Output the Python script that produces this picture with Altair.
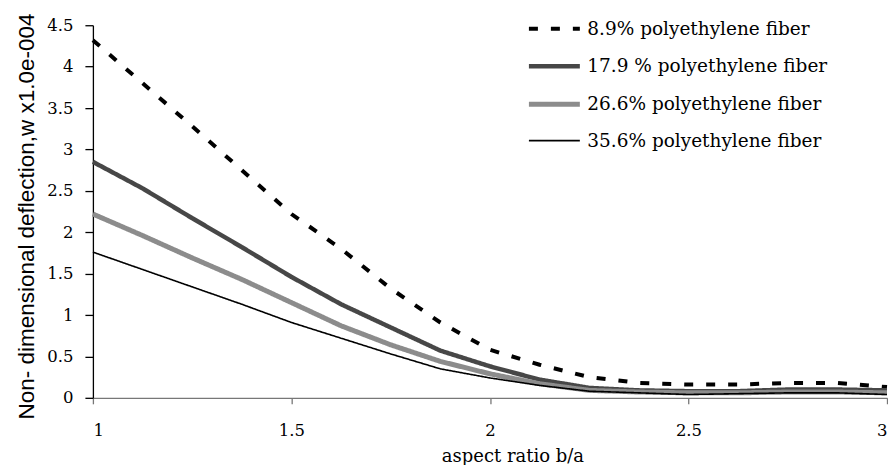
import altair as alt
import pandas as pd

x_vals = [1.0, 1.125, 1.25, 1.375, 1.5, 1.625, 1.75, 1.875, 2.0,
          2.125, 2.25, 2.375, 2.5, 2.625, 2.75, 2.875, 3.0]

series_names = ["8.9% polyethylene fiber", "17.9 % polyethylene fiber",
                "26.6% polyethylene fiber", "35.6% polyethylene fiber"]

s_089 = [4.32, 3.80, 3.28, 2.75, 2.22, 1.80, 1.32, 0.91, 0.58,
         0.40, 0.25, 0.18, 0.16, 0.16, 0.18, 0.18, 0.13]
s_179 = [2.85, 2.53, 2.17, 1.82, 1.46, 1.13, 0.85, 0.57, 0.38,
         0.22, 0.12, 0.09, 0.08, 0.08, 0.10, 0.10, 0.09]
s_266 = [2.22, 1.96, 1.69, 1.43, 1.15, 0.87, 0.64, 0.44, 0.29,
         0.17, 0.09, 0.07, 0.06, 0.06, 0.07, 0.07, 0.06]
s_356 = [1.76, 1.55, 1.34, 1.13, 0.91, 0.72, 0.53, 0.35, 0.24,
         0.15, 0.08, 0.06, 0.04, 0.05, 0.06, 0.06, 0.04]

rows = []
for name, vals in zip(series_names, [s_089, s_179, s_266, s_356]):
    for i, (xv, yv) in enumerate(zip(x_vals, vals)):
        rows.append({"series": name, "x": xv, "y": yv, "order": i})
df = pd.DataFrame(rows)

colors = ["#000000", "#474747", "#8c8c8c", "#000000"]
dashes = [[9, 13], [1, 0], [1, 0], [1, 0]]
widths = [4, 4.5, 5, 1.6]

SERIF = "DejaVu Serif"
SANS = "Liberation Sans"

chart = alt.Chart(df).mark_line().encode(
    x=alt.X("x:Q", scale=alt.Scale(domain=[1, 3], nice=False),
            axis=alt.Axis(values=[1, 1.5, 2, 2.5, 3], format="~g",
                          title="aspect ratio b/a", grid=False,
                          domainColor="#777777", tickColor="#777777",
                          tickSize=6, labelPadding=19,
                          labelFont=SERIF, labelFontSize=16.5,
                          labelColor="#000000",
                          titleFont=SERIF, titleFontSize=18,
                          titleFontWeight="normal", titleColor="#000000",
                          titleX=420, titleY=64, titleBaseline="alphabetic",
                          titleAnchor="middle", titleAlign="center")),
    y=alt.Y("y:Q", scale=alt.Scale(domain=[0, 4.5], nice=False),
            axis=alt.Axis(values=[0, 0.5, 1, 1.5, 2, 2.5, 3, 3.5, 4, 4.5],
                          format="~g",
                          title="Non- dimensional deflection,w x1.0e-004",
                          grid=False, domainColor="#000000", tickColor="#000000",
                          tickSize=8, labelPadding=12,
                          labelFont=SERIF, labelFontSize=16.5,
                          labelColor="#000000",
                          titleFont=SANS, titleFontSize=22.5,
                          titleFontWeight="normal", titleColor="#000000",
                          titlePadding=8, titleY=191)),
    color=alt.Color("series:N", scale=alt.Scale(domain=series_names, range=colors),
                    title=None, sort=series_names),
    strokeDash=alt.StrokeDash("series:N", scale=alt.Scale(domain=series_names, range=dashes),
                              title=None, sort=series_names),
    strokeWidth=alt.StrokeWidth("series:N",
                                scale=alt.Scale(type="ordinal", domain=series_names, range=widths),
                                title=None, sort=series_names),
    order="order:Q",
).properties(
    width=795, height=373,
    autosize=alt.AutoSizeParams(type="none"),
    padding={"left": 85, "top": 17, "right": 1, "bottom": 67},
).configure_view(stroke=None).configure_legend(
    orient="none", legendX=434, legendY=-24,
    symbolType="stroke", symbolSize=2600,
    labelFont=SERIF, labelFontSize=18.5, labelColor="#000000",
    labelOffset=5, rowPadding=0, labelLimit=400,
).configure_axis(domainWidth=1.3, tickWidth=1.3)

chart.save("out.html", embed_options={"renderer": "svg", "actions": False})
